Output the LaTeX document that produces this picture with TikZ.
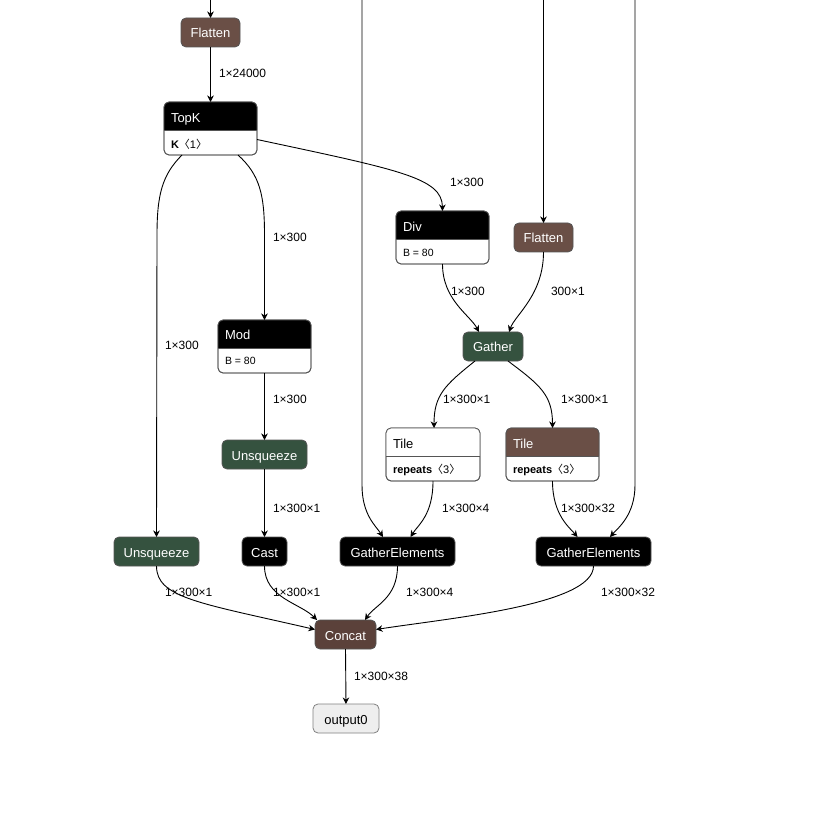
\documentclass[tikz,border=0pt]{standalone}
\usepackage{fontspec}
\setmainfont{Liberation Sans}
\newfontfamily\cjkbr{Noto Sans CJK SC}
\usetikzlibrary{arrows.meta,calc}
\definecolor{brownop}{HTML}{6A4F46}
\definecolor{concatc}{HTML}{5B413A}
\definecolor{greenop}{HTML}{35523F}
\definecolor{bordc}{HTML}{555555}
\definecolor{outfill}{HTML}{EEEEEE}
\newcommand{\abr}[1]{{\cjkbr 〈}#1{\cjkbr 〉}}
\begin{document}
\begin{tikzpicture}[x=1pt,y=-1pt,
  every node/.style={inner sep=0pt, outer sep=0pt},
  opbox/.style={draw=bordc, line width=0.8pt, rounded corners=5pt, minimum height=29pt, text=white, font=\fontsize{13}{15}\selectfont, text height=11pt, text depth=0pt},
  blackop/.style={opbox, fill=black},
  brownbox/.style={opbox, fill=brownop},
  greenbox/.style={opbox, fill=greenop},
  concatbox/.style={opbox, fill=concatc},
  outbox/.style={opbox, fill=outfill, text=black, draw=gray},
  attrframe/.style={draw=bordc, line width=0.8pt, rounded corners=5pt, fill=white, minimum height=53pt},
  ttl/.style={anchor=west, font=\fontsize{13}{15}\selectfont, text height=11pt, text depth=0pt},
  attr/.style={anchor=west, font=\fontsize{11}{13}\selectfont},
  elabel/.style={anchor=west, font=\fontsize{12}{14}\selectfont},
  edge/.style={draw=black, line width=0.9pt, -{Stealth[length=6.5pt,width=6.5pt,inset=2pt]}},
]
\useasboundingbox (0,0) rectangle (828,821);

% ---- simple nodes
\node[brownbox, minimum width=59pt] (flat1) at (210.5,32.5) {Flatten};
\node[brownbox, minimum width=59pt] (flat2) at (543.5,237.5) {Flatten};
\node[greenbox, minimum width=60pt] (gather) at (493,346.5) {Gather};
\node[greenbox, minimum width=85pt] (unsq2) at (264.5,454.5) {Unsqueeze};
\node[greenbox, minimum width=85pt] (unsq1) at (156.5,551.5) {Unsqueeze};
\node[blackop, minimum width=45pt] (cast) at (264.5,551.5) {Cast};
\node[blackop, minimum width=115pt] (ge1) at (397.5,551.5) {GatherElements};
\node[blackop, minimum width=115pt] (ge2) at (593.5,551.5) {GatherElements};
\node[concatbox, minimum width=61pt] (concat) at (345.5,634.5) {Concat};
\node[outbox, minimum width=66pt] (out) at (346,718.5) {output0};

% ---- two-part nodes: frame, header, texts
% #1 name, #2 cx, #3 top y, #4 width, #5 header colour
\newcommand{\twopart}[5]{%
  \node[attrframe, minimum width=#4pt] (#1) at (#2,#3+26.5) {};
  \fill[#5] ($(#1.north west)+(0,28)$) [rounded corners=5pt] -- (#1.north west) -- (#1.north east) [sharp corners] -- ($(#1.north east)+(0,28)$) -- cycle;
  \draw[bordc, line width=0.8pt] ($(#1.north west)+(0,28)$) -- ($(#1.north east)+(0,28)$);
  \draw[bordc, line width=0.8pt, rounded corners=5pt] (#1.north west) rectangle (#1.south east);
}
\twopart{topk}{210.5}{102}{93}{black}
\twopart{div}{442.5}{211}{93}{black}
\twopart{mod}{264.5}{320}{93}{black}
\twopart{tile1}{433}{428}{94}{white}
\twopart{tile2}{552.5}{428}{93}{brownop}

\node[ttl, text=white] (topkt) at (171,117) {TopK};
\node[attr] (topka) at (171,144) {\textbf{K}\abr{1}};
\node[ttl, text=white] (divt) at (403,226) {Div};
\node[attr, font=\fontsize{10.5}{12}\selectfont] (diva) at (403,253) {B = 80};
\node[ttl, text=white] (modt) at (225,334.5) {Mod};
\node[attr, font=\fontsize{10.5}{12}\selectfont] (moda) at (225,361) {B = 80};
\node[ttl, text=black] (tile1t) at (393,443) {Tile};
\node[attr] (tile1a) at (393,470) {\textbf{repeats}\abr{3}};
\node[ttl, text=white] (tile2t) at (513,443) {Tile};
\node[attr] (tile2a) at (513,470) {\textbf{repeats}\abr{3}};

% ---- free ends at the top
\coordinate (in1) at (210.5,0);
\coordinate (in2) at (362,0);
\coordinate (in3) at (543.5,0);
\coordinate (in4) at (635,0);

% ---- connectors
\draw[edge] (in1) -- (flat1.north);
\draw[edge] (flat1.south) -- (topk.north);
\draw[edge] ($(topk.east)+(0,11)$) .. controls (400,170) and (442,178) .. (div.north);
\draw[edge] ($(topk.south west)+(18,0)$) .. controls (162,175) and (157,195) .. (157,235) -- (unsq1.north);
\draw[edge] ($(topk.south west)+(74,0)$) .. controls (260,175) and (264.5,195) .. (264.5,235) -- (mod.north);
\draw[edge] (in2) -- (362,485) .. controls (362,515) and (376,526) .. ($(ge1.north west)+(43,0)$);
\draw[edge] (in3) -- (flat2.north);
\draw[edge] (in4) -- (635,485) .. controls (635,515) and (618,528) .. ($(ge2.north east)+(-41,0)$);
\draw[edge] (div.south) .. controls (442.5,300) and (470,315) .. ($(gather.north)+(-14,0)$);
\draw[edge] (flat2.south) .. controls (543.5,295) and (515,315) .. ($(gather.north)+(16,0)$);
\draw[edge] ($(gather.south)+(-18,0)$) .. controls (445,385) and (434,395) .. ($(tile1.north)+(1,0)$);
\draw[edge] ($(gather.south)+(15,0)$) .. controls (540,385) and (552.5,395) .. (tile2.north);
\draw[edge] (mod.south) -- (unsq2.north);
\draw[edge] (unsq2.south) -- (cast.north);
\draw[edge] (tile1.south) .. controls (433,515) and (418,525) .. ($(ge1.north)+(13,0)$);
\draw[edge] (tile2.south) .. controls (552.5,515) and (570,528) .. ($(ge2.north)+(-16,0)$);
\draw[edge] (unsq1.south) .. controls (156.5,598) and (200,603) .. ($(concat.west)+(0,-5)$);
\draw[edge] (cast.south) .. controls (264.5,598) and (300,603) .. ($(concat.north west)+(2,0)$);
\draw[edge] (ge1.south) .. controls (397.5,598) and (375,605) .. ($(concat.north east)+(-11,0)$);
\draw[edge] (ge2.south) .. controls (593.5,605) and (450,618) .. ($(concat.east)+(0,-5)$);
\draw[edge] (concat.south) -- (out.north);

% ---- edge labels
\node[elabel] (l1) at (219,73) {1×24000};
\node[elabel] (l2) at (450,182) {1×300};
\node[elabel] (l3) at (165,345) {1×300};
\node[elabel] (l4) at (273,237) {1×300};
\node[elabel] (l5) at (451,291) {1×300};
\node[elabel] (l6) at (551,291) {300×1};
\node[elabel] (l7) at (443,399) {1×300×1};
\node[elabel] (l8) at (561,399) {1×300×1};
\node[elabel] (l9) at (273,399) {1×300};
\node[elabel] (l10) at (273,508) {1×300×1};
\node[elabel] (l11) at (442,508) {1×300×4};
\node[elabel] (l12) at (561,508) {1×300×32};
\node[elabel] (l13) at (165,592) {1×300×1};
\node[elabel] (l14) at (273,592) {1×300×1};
\node[elabel] (l15) at (406,592) {1×300×4};
\node[elabel] (l16) at (601,592) {1×300×32};
\node[elabel] (l17) at (354,676) {1×300×38};
\end{tikzpicture}
\end{document}
